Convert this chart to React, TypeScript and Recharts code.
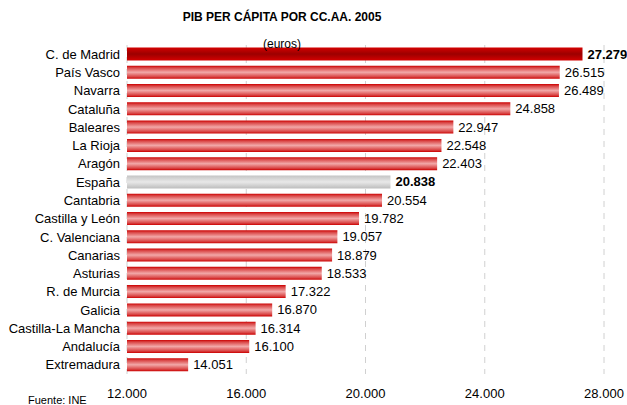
import { BarChart, Bar, XAxis, YAxis, CartesianGrid, Cell, LabelList } from 'recharts'

const regions = [
  'C. de Madrid', 'País Vasco', 'Navarra', 'Cataluña', 'Baleares', 'La Rioja', 'Aragón',
  'España', 'Cantabria', 'Castilla y León', 'C. Valenciana', 'Canarias', 'Asturias',
  'R. de Murcia', 'Galicia', 'Castilla-La Mancha', 'Andalucía', 'Extremadura',
]
const pibValues = [
  27279, 26515, 26489, 24858, 22947, 22548, 22403,
  20838, 20554, 19782, 19057, 18879, 18533,
  17322, 16870, 16314, 16100, 14051,
]
const xTicks = [12000, 16000, 20000, 24000, 28000]
const highlighted = ['C. de Madrid', 'España']

const data = regions.map((name, i) => ({ name, value: pibValues[i] }))

const fmt = (v: number) => v.toLocaleString('de-DE')

const fillFor = (name: string) =>
  name === 'C. de Madrid' ? 'url(#gMadrid)' : name === 'España' ? 'url(#gSpain)' : 'url(#gRed)'

const ValueLabel = (props: any) => {
  const { x, y, width, height, value, index } = props
  const bold = highlighted.includes(regions[index])
  return (
    <text x={x + width + 5} y={y + height / 2} dy="0.35em" fontSize={13}
      fontWeight={bold ? 'bold' : 'normal'} fill="#000">
      {fmt(value)}
    </text>
  )
}

export default function App() {
  return (
    <div style={{ position: 'relative', width: 627, height: 405, background: '#fff', fontFamily: '"Liberation Sans", Arial, sans-serif', overflow: 'hidden' }}>
      <style>{'body{margin:0}'}</style>
      <div style={{ position: 'absolute', left: 82, width: 400, top: 10, textAlign: 'center', fontSize: 12, fontWeight: 'bold' }}>
        PIB PER CÁPITA POR CC.AA. 2005
      </div>
      <BarChart width={627} height={405} data={data} layout="vertical"
        margin={{ top: 45, right: 23, bottom: 0, left: 0 }} barCategoryGap={2.5}>
        <defs>
          <linearGradient id="gRed" x1="0" y1="0" x2="0" y2="1">
            <stop offset="0%" stopColor="#cc0000" />
            <stop offset="15%" stopColor="#d94444" />
            <stop offset="50%" stopColor="#f2a8a8" />
            <stop offset="85%" stopColor="#d94444" />
            <stop offset="100%" stopColor="#cc0000" />
          </linearGradient>
          <linearGradient id="gMadrid" x1="0" y1="0" x2="0" y2="1">
            <stop offset="0%" stopColor="#d40000" />
            <stop offset="50%" stopColor="#9c0000" />
            <stop offset="100%" stopColor="#d40000" />
          </linearGradient>
          <linearGradient id="gSpain" x1="0" y1="0" x2="0" y2="1">
            <stop offset="0%" stopColor="#c4c4c4" />
            <stop offset="50%" stopColor="#e8e8e8" />
            <stop offset="100%" stopColor="#bdbdbd" />
          </linearGradient>
        </defs>
        <CartesianGrid horizontal={false} stroke="#d0d0d0" strokeDasharray="6 6" />
        <XAxis type="number" domain={[12000, 28000]} ticks={xTicks} tickFormatter={fmt}
          axisLine={false} tickLine={false} tickMargin={9} height={31}
          tick={{ fontSize: 13, fill: '#000' }} />
        <YAxis type="category" dataKey="name" width={127} axisLine={false} tickLine={false}
          tickSize={0} tickMargin={7} interval={0} tick={{ fontSize: 13, fill: '#000' }} />
        <Bar dataKey="value" isAnimationActive={false}>
          {data.map(d => (
            <Cell key={d.name} fill={fillFor(d.name)} />
          ))}
          <LabelList dataKey="value" content={ValueLabel} />
        </Bar>
      </BarChart>
      <div style={{ position: 'absolute', left: 282 - 50, width: 100, top: 37, textAlign: 'center', fontSize: 12 }}>
        (euros)
      </div>
      <div style={{ position: 'absolute', left: 28, top: 394, fontSize: 11 }}>Fuente: INE</div>
    </div>
  )
}
